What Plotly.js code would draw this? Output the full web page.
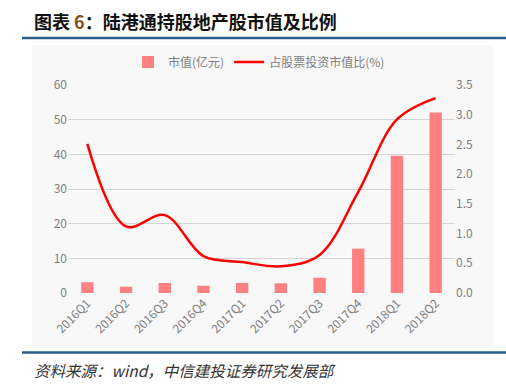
<!DOCTYPE html>
<html>
<head>
<meta charset="utf-8">
<script src="https://cdn.plot.ly/plotly-3.0.1.min.js"></script>
<style>html,body{margin:0;padding:0;background:#fff;}#chart{width:506px;height:385px;}</style>
</head>
<body>
<div id="chart"></div>
<script>
const categories = ["2016Q1","2016Q2","2016Q3","2016Q4","2017Q1","2017Q2","2017Q3","2017Q4","2018Q1","2018Q2"];
const marketValue = [3.1, 1.8, 2.9, 2.1, 2.9, 2.8, 4.4, 12.8, 39.6, 52.1];
const ratio = [2.51, 1.12, 1.31, 0.62, 0.52, 0.45, 0.64, 1.70, 2.92, 3.28];
const leftTicks = [0,10,20,30,40,50,60];
const rightTicks = [0,0.5,1,1.5,2,2.5,3,3.5];

const W = 506, H = 385;
const M = {l: 68, r: 51, t: 85, b: 92};
const pw = W - M.l - M.r, ph = H - M.t - M.b;
const px = x => (x - M.l) / pw;
const py = y => (H - M.b - y) / ph;

const font = "'Noto Sans CJK SC', 'Noto Sans', sans-serif";

const traces = [
  {type: 'bar', x: categories, y: marketValue, name: '市值(亿元)',
   marker: {color: '#ff8080'}, width: 0.32, yaxis: 'y'},
  {type: 'scatter', mode: 'lines', x: categories, y: ratio, name: '占股票投资市值比(%)',
   line: {color: '#ff0000', width: 2.5, shape: 'spline', smoothing: 1}, yaxis: 'y2'}
];

const layout = {
  width: W, height: H,
  margin: M,
  paper_bgcolor: 'rgba(0,0,0,0)',
  plot_bgcolor: 'rgba(0,0,0,0)',
  showlegend: true,
  legend: {orientation: 'h', x: px(128), y: py(62), yanchor: 'middle', xanchor: 'left',
           font: {family: font, size: 12, color: '#7f7f7f'}, bgcolor: 'rgba(0,0,0,0)',
           itemwidth: 30, tracegroupgap: 0},
  bargap: 0.6,
  xaxis: {type: 'category', tickangle: -45, tickfont: {family: font, size: 12, color: '#7f7f7f'},
          showgrid: false, showline: false, ticks: '', zeroline: false},
  yaxis: {range: [0, 60], tickvals: leftTicks, showgrid: true, gridcolor: '#d4d4d4', gridwidth: 1,
          zeroline: false, showline: false, ticks: '',
          tickfont: {family: font, size: 12, color: '#7f7f7f'}},
  yaxis2: {range: [0, 3.5], tickvals: rightTicks, tickformat: '.1f', overlaying: 'y', side: 'right',
           showgrid: false, zeroline: false, showline: false, ticks: '',
           tickfont: {family: font, size: 12, color: '#7f7f7f'}},
  shapes: [
    {type: 'rect', xref: 'paper', yref: 'paper', x0: px(32), x1: px(493), y0: py(45), y1: py(346),
     fillcolor: '#f8f8f8', line: {width: 0}, layer: 'below'},
    {type: 'line', xref: 'paper', yref: 'paper', x0: px(22), x1: px(506), y0: py(38), y1: py(38),
     line: {color: '#2a5c8a', width: 2.5}},
    {type: 'line', xref: 'paper', yref: 'paper', x0: px(22), x1: px(506), y0: py(352.5), y1: py(352.5),
     line: {color: '#2a5c8a', width: 2.5}}
  ],
  annotations: [
    {xref: 'paper', yref: 'paper', x: px(32), y: py(21), xanchor: 'left', yanchor: 'middle', showarrow: false,
     text: '<b>图表 <span style="color:#8a4b12">6</span>：陆港通持股地产股市值及比例</b>',
     font: {family: font, size: 18, color: '#111111'}},
    {xref: 'paper', yref: 'paper', x: px(32), y: py(370), xanchor: 'left', yanchor: 'middle', showarrow: false,
     text: '<i>资料来源：wind，中信建投证券研究发展部</i>',
     font: {family: font, size: 15.5, color: '#333333'}}
  ]
};

Plotly.newPlot('chart', traces, layout, {displayModeBar: false, staticPlot: true});
</script>
</body>
</html>
